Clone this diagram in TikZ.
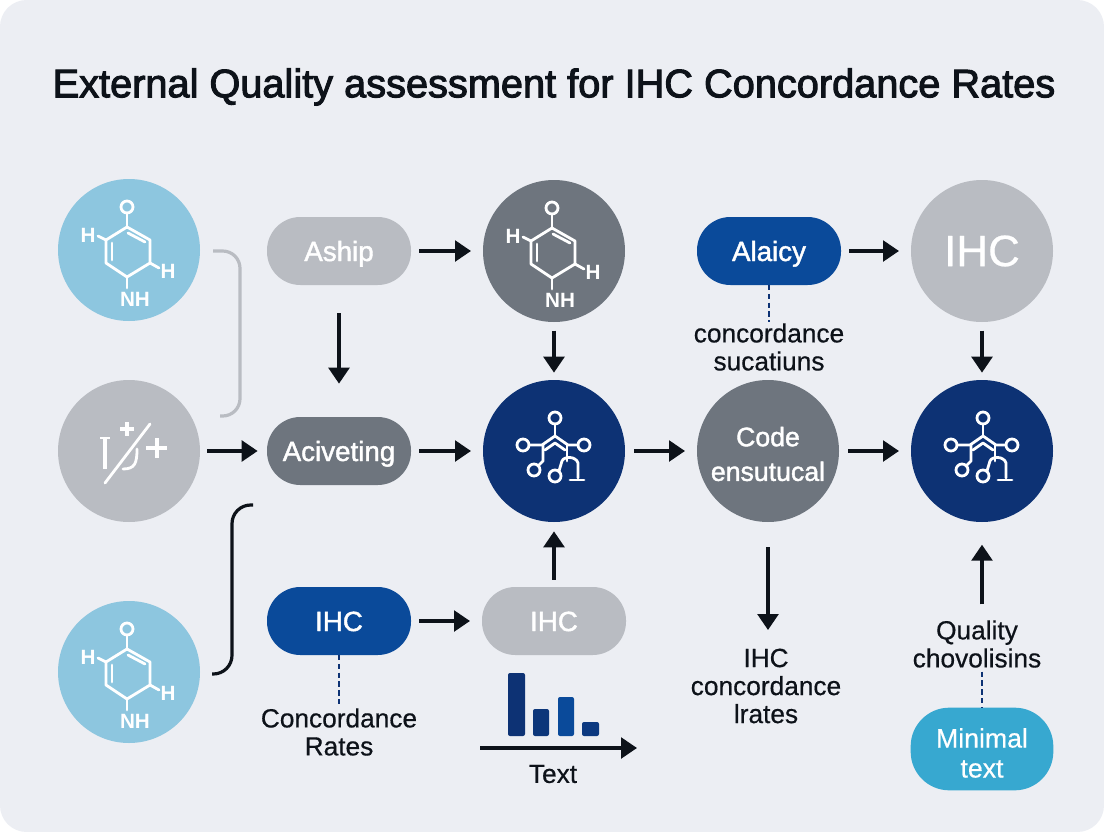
\documentclass[tikz,border=0pt]{standalone}
\usepackage{fontspec}
\setmainfont{Liberation Sans}
\newfontface\titleface[FakeBold=2.5]{Liberation Sans}
\newfontface\midface[FakeBold=1.5]{Liberation Sans}
\newfontface\softface[FakeBold=0.5]{Liberation Sans}
\usetikzlibrary{arrows.meta}
\definecolor{bgc}{HTML}{ECEEF3}
\definecolor{skyc}{HTML}{8DC6DF}
\definecolor{grayc}{HTML}{B9BCC2}
\definecolor{slatec}{HTML}{6E757E}
\definecolor{navyc}{HTML}{0D3274}
\definecolor{bluec}{HTML}{0A4A9A}
\definecolor{tealc}{HTML}{37A8D0}
\definecolor{inkc}{HTML}{0D1219}
\tikzset{
  x=0.75pt,y=-0.75pt,
  disc/.style={circle,fill=#1,minimum size=106.5pt,inner sep=0pt,outer sep=0pt},
  pill/.style={rectangle,rounded corners=25pt,fill=#1,minimum width=108pt,minimum height=51pt,inner sep=0pt,outer sep=0pt,text=white,font=\midface\fontsize{20.8}{23}\selectfont,align=center,text height=20pt,text depth=5pt},
  lab/.style={text=inkc,font=\softface\fontsize{19.7}{21}\selectfont,align=center,inner sep=0pt,outer sep=0pt},
  arrowline/.style={draw=inkc,line width=2.7pt,-{Triangle[length=12pt,width=15.5pt]}},
  dashline/.style={draw=navyc,line width=1.1pt,dash pattern=on 4pt off 2.6pt},
  iconline/.style={draw=white,line width=2.1pt,line join=round,line cap=round},
  icontext/.style={text=white,font=\bfseries\fontsize{15.5}{16}\selectfont,inner sep=0pt},
  pics/molecule/.style={code={
    \draw[iconline] (-2,-23)--(21,-10)--(21,13)--(-2,27)--(-23,13)--(-23,-10)--cycle;
    \draw[iconline] (-2,-23)--(-2,-37);
    \draw[iconline] (-2,-43) circle[radius=6];
    \draw[iconline] (-1,-17)--(16,-8);
    \draw[iconline] (-17,-7)--(-17,10);
    \draw[iconline] (-23,-10)--(-31,-14);
    \draw[iconline] (21,13)--(30,18);
    \draw[iconline] (-2,27)--(-2,38);
    \node[icontext] (-hl) at (-41,-15) {H};
    \node[icontext] (-hr) at (39,21) {H};
    \node[icontext] (-nh) at (6,49) {NH};
  }},
  pics/network/.style={code={
    \draw[iconline] (1,-27)--(1,-15);
    \draw[iconline] (1,-33) circle[radius=6];
    \draw[iconline] (-25,-6)--(-12,-6)--(1,-15)--(14,-6)--(24,-6);
    \draw[iconline] (-9,-1)--(1,-8)--(11,-1);
    \draw[iconline] (-31,-6) circle[radius=6];
    \draw[iconline] (30,-6) circle[radius=6];
    \draw[iconline] (-11,-6)--(-11,10)--(-16,15);
    \draw[iconline] (-20,19) circle[radius=6];
    \draw[iconline] (13,-6)--(13,10);
    \draw[iconline] (1,25) circle[radius=6];
    \draw[iconline] (5,20)--(8,10) .. controls (10,5) and (22,5) .. (24,12)--(24,27);
    \draw[iconline] (16,29)--(30,29);
  }},
  pics/crossed/.style={code={
    \draw[iconline,line width=2.8pt,line cap=butt] (-24,-13)--(-24,18);
    \draw[iconline,line width=2.2pt,line cap=butt] (-29,-13)--(-19,-13);
    \draw[iconline,line width=2.8pt,line cap=butt] (-9,-22)--(5,-22);
    \draw[iconline,line width=2.8pt,line cap=butt] (-2,-29)--(-2,-15);
    \draw[iconline,line width=3pt,line cap=butt] (17,-3)--(38,-3);
    \draw[iconline,line width=3pt,line cap=butt] (28,-13)--(28,7);
    \draw[iconline] (-24,32)--(21,-27);
    \draw[iconline] (8,-2) .. controls (8,12) and (6,18) .. (-6,18);
  }}
}
\begin{document}
\begin{tikzpicture}
\useasboundingbox (0,0) rectangle (1104,832);
\fill[white] (0,0) rectangle (1104,832);
\fill[bgc,rounded corners=20pt] (0,0) rectangle (1104,832);

\node[text=inkc,font=\titleface\fontsize{29.8}{33}\selectfont,inner sep=0pt] (title) at (554,87) {External Quality assessment for IHC Concordance Rates};

% circles
\node[disc=skyc] (m1) at (129,250) {};
\node[disc=grayc] (c2) at (129,451) {};
\node[disc=skyc] (m3) at (129,672) {};
\node[disc=slatec] (m4) at (554,251) {};
\node[disc=navyc] (n1) at (554,451) {};
\node[disc=slatec] (code) at (768,451) {};
\node[text=white,align=center,font=\midface\fontsize{20}{22}\selectfont,inner sep=0pt] (codetext) at (768,454) {Code\\[4pt]ensutucal};
\node[disc=grayc,text=white,font=\softface\fontsize{33}{36}\selectfont] (ihcc) at (982,251) {IHC};
\node[disc=navyc] (n2) at (982,451) {};

\pic (i1) at (m1) {molecule};
\pic (i2) at (c2) {crossed};
\pic (i3) at (m3) {molecule};
\pic (i4) at (m4) {molecule};
\pic (i5) at (n1) {network};
\pic (i6) at (n2) {network};

% pills
\node[pill=grayc] (aship) at (339,251) {Aship};
\node[pill=slatec] (act) at (339,451) {Aciveting};
\node[pill=bluec] (ihc1) at (339,621) {IHC};
\node[pill=grayc] (ihc2) at (554,621) {IHC};
\node[pill=bluec] (alaicy) at (769,251) {Alaicy};
\node[rectangle,fill=tealc,minimum width=107pt,minimum height=62pt,rounded corners=29pt,inner sep=0pt,outer sep=0pt] (minimal) at (982,749) {};
\node[text=white,align=center,font=\softface\fontsize{20}{22}\selectfont,inner sep=0pt] (minimaltext) at (982,753) {Minimal\\[0.5pt]text};

% labels
\node[lab] (lconc) at (339,732) {Concordance\\[0pt]Rates};
\node[lab] (lsuc) at (769,347) {concordance\\[0pt]sucatiuns};
\node[lab] (lrates) at (766,686) {IHC\\[0pt]concordance\\[0pt]lrates};
\node[lab] (lqual) at (977,644) {Quality\\[0pt]chovolisins};
\node[lab] (ltext) at (553,774) {Text};

% bars and axis
\fill[navyc,rounded corners=1.5pt] (508,673) rectangle (525,736);
\fill[navyc!85!bluec,rounded corners=1.5pt] (533,709) rectangle (549,736);
\fill[bluec,rounded corners=1.5pt] (558,697) rectangle (574,736);
\fill[navyc!70!bluec,rounded corners=1.5pt] (582,722) rectangle (599,736);
\coordinate (ax1) at (480,748);
\coordinate (ax2) at (637,748);
\draw[arrowline] (ax1) -- (ax2);

% brackets
\coordinate (g1) at (213,251);
\coordinate (g2) at (240,251);
\coordinate (g3) at (240,416);
\coordinate (g4) at (220,416);
\draw[draw=grayc,line width=2.4pt,rounded corners=13pt] (g1) -- (g2) -- (g3) -- (g4);
\coordinate (b1) at (253,505);
\coordinate (b2) at (232,505);
\coordinate (b3) at (232,674);
\coordinate (b4) at (212,674);
\draw[draw=inkc,line width=2.4pt,rounded corners=14pt] (b1) -- (b2) -- (b3) -- (b4);

% arrows
\draw[arrowline,shorten <=5.5pt,shorten >=7pt] (c2) -- (act);
\draw[arrowline,shorten <=6pt,shorten >=9pt] (aship) -- (m4);
\draw[arrowline,shorten <=21pt,shorten >=25pt] (aship) -- (act);
\draw[arrowline,shorten <=6.5pt,shorten >=5.5pt] (m4) -- (n1);
\draw[arrowline,shorten <=6pt,shorten >=9pt] (act) -- (n1);
\draw[arrowline,shorten <=7pt,shorten >=9pt] (n1) -- (code);
\draw[arrowline,shorten <=6pt,shorten >=9pt] (alaicy) -- (ihcc);
\draw[arrowline,shorten <=6.5pt,shorten >=5.5pt] (ihcc) -- (n2);
\draw[arrowline,shorten <=7pt,shorten >=9pt] (code) -- (n2);
\draw[arrowline,shorten <=6pt,shorten >=9pt] (ihc1) -- (ihc2);
\draw[arrowline,shorten <=5.5pt,shorten >=7pt] (ihc2) -- (n1);
\draw[arrowline,shorten <=19pt,shorten >=14pt] (code.south) -- (code.south |- lrates.north);
\draw[arrowline,shorten <=12pt,shorten >=17pt] (lqual.north -| n2) -- (n2);

% dashed
\draw[dashline,shorten >=1pt] (ihc1) -- (lconc);
\draw[dashline,shorten >=1pt] (alaicy.south) -- (lsuc.north -| alaicy.south);
\draw[dashline,shorten <=3pt] (lqual.south -| minimal.north) -- (minimal.north);
\end{tikzpicture}
\end{document}
